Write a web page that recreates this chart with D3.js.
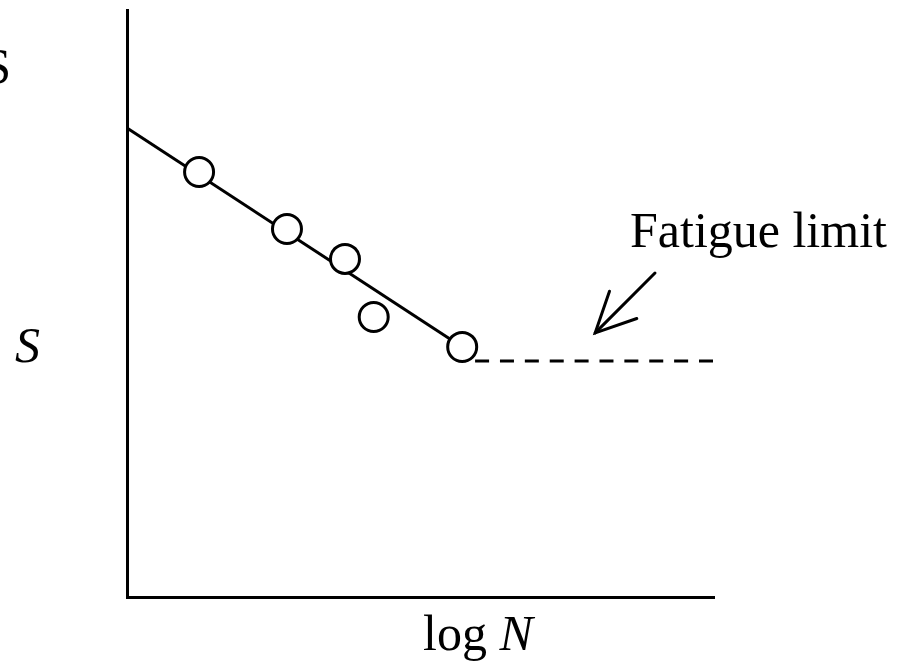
<!DOCTYPE html>
<html>
<head>
<meta charset="utf-8">
<script src="https://cdn.jsdelivr.net/npm/d3@7"></script>
<style>
  html, body { margin: 0; padding: 0; background: #fff; }
  svg { display: block; }
  text { font-family: "Liberation Serif", "Times New Roman", serif; fill: #000; }
</style>
</head>
<body>
<script>
// S–N curve: stress amplitude against log of cycles to failure
const testLogN = [1.23, 2.73, 3.72, 4.21, 5.72];
const testS    = [7.24, 6.27, 5.76, 4.77, 4.26];

// fitted sloping line (start at the stress axis, end at the knee)
const fitLogN = [0, 5.72];
const fitS    = [7.99, 4.26];

// endurance (fatigue) limit, drawn dashed
const limitLogN = [5.94, 10];
const limitS    = [4.02, 4.02];

// annotation arrow: tail then head
const arrowLogN = [9.01, 7.99];
const arrowS    = [5.52, 4.50];

const axisLabels = { x: "log N", y: "S", top: "S", note: "Fatigue limit" };

const W = 907, H = 669;
const svg = d3.select("body").append("svg").attr("width", W).attr("height", H);

const x = d3.scaleLinear().domain([0, 10]).range([127, 713]);
const y = d3.scaleLinear().domain([0, 10]).range([597, 10]);

// axes with no ticks, just the spines
const gx = svg.append("g").attr("transform", `translate(0,${y(0)})`)
  .call(d3.axisBottom(x).tickValues([]).tickSizeOuter(0));
const gy = svg.append("g").attr("transform", `translate(${x(0)},0)`)
  .call(d3.axisLeft(y).tickValues([]).tickSizeOuter(0));
[gx, gy].forEach(g => g.select(".domain")
  .attr("stroke", "#000").attr("stroke-width", 3).attr("stroke-linecap", "square"));

const line = d3.line().x(d => x(d[0])).y(d => y(d[1]));

// fitted line
svg.append("path")
  .datum(d3.zip(fitLogN, fitS))
  .attr("d", line)
  .attr("fill", "none").attr("stroke", "#000").attr("stroke-width", 3);

// fatigue limit: ten dashes spread over the segment
const limitLen = x(limitLogN[1]) - x(limitLogN[0]);
const dash = 14, nDash = 10, gap = (limitLen - nDash * dash) / (nDash - 1);
svg.append("path")
  .datum(d3.zip(limitLogN, limitS))
  .attr("d", line)
  .attr("fill", "none").attr("stroke", "#000").attr("stroke-width", 3)
  .attr("stroke-dasharray", `${dash},${gap}`);

// test points
svg.append("g").selectAll("circle")
  .data(d3.zip(testLogN, testS))
  .join("circle")
  .attr("cx", d => x(d[0])).attr("cy", d => y(d[1])).attr("r", 14.5)
  .attr("fill", "#fff").attr("stroke", "#000").attr("stroke-width", 3);

// arrow pointing to the limit
const tail = [x(arrowLogN[0]), y(arrowS[0])];
const head = [x(arrowLogN[1]), y(arrowS[1])];
const ang = Math.atan2(tail[1] - head[1], tail[0] - head[0]);
const barb = 44, spread = 26 * Math.PI / 180;
const arrow = svg.append("g").attr("fill", "none").attr("stroke", "#000")
  .attr("stroke-width", 3).attr("stroke-linecap", "round");
arrow.append("line")
  .attr("x1", tail[0]).attr("y1", tail[1]).attr("x2", head[0]).attr("y2", head[1]);
arrow.append("path")
  .attr("d", `M${head[0] + barb * Math.cos(ang - spread)},${head[1] + barb * Math.sin(ang - spread)}` +
             `L${head[0]},${head[1]}` +
             `L${head[0] + barb * Math.cos(ang + spread)},${head[1] + barb * Math.sin(ang + spread)}`);

// labels
svg.append("text").attr("x", 630).attr("y", 247)
  .attr("font-size", 50).text(axisLabels.note);

svg.append("text").attr("x", 11).attr("y", 83)
  .attr("font-size", 50).attr("text-anchor", "end").text(axisLabels.top);

svg.append("text").attr("x", 15).attr("y", y(limitS[0]) + 1)
  .attr("font-size", 50).attr("font-style", "italic").text(axisLabels.y);

const xl = svg.append("text").attr("x", 423).attr("y", 650).attr("font-size", 50);
xl.append("tspan").text("log ");
xl.append("tspan").attr("font-style", "italic").text("N");
</script>
</body>
</html>
